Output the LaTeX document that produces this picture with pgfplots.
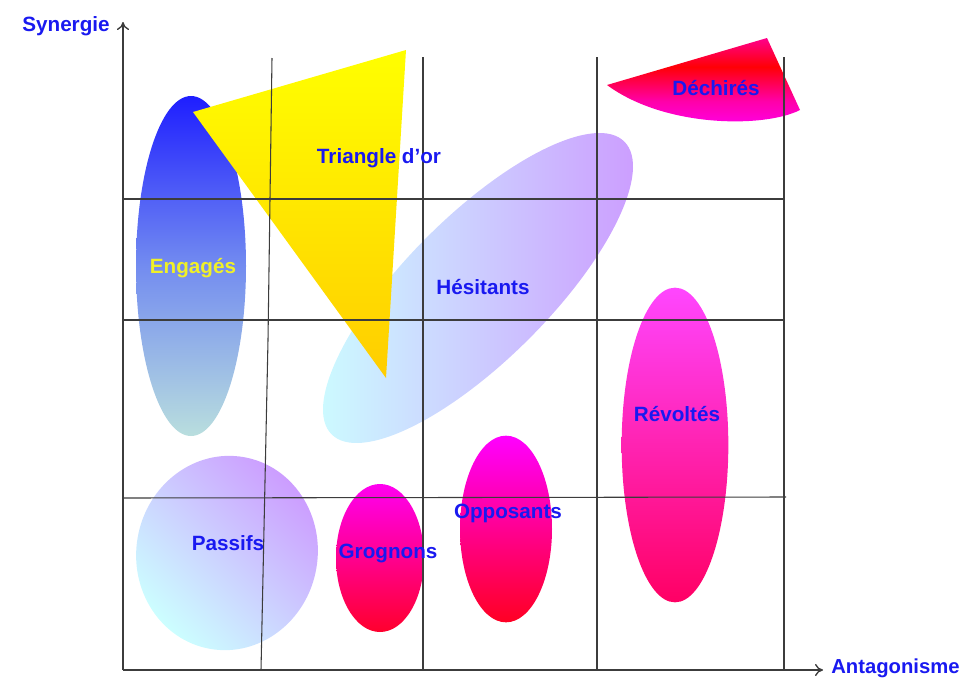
\documentclass[border=0pt]{standalone}
\usepackage{pgfplots}
\pgfplotsset{compat=1.18}
\usetikzlibrary{arrows.meta}
\usepackage{fontspec}
\setmainfont{Liberation Sans}

\definecolor{lav}{RGB}{204,153,255}
\definecolor{cya}{RGB}{204,255,255}
\definecolor{txtblue}{RGB}{25,25,240}
\definecolor{gridc}{RGB}{60,60,60}

\pgfdeclareverticalshading{dech}{100bp}{%
  rgb(0bp)=(1,0,0.92); rgb(25bp)=(1,0,0.92); rgb(40bp)=(1,0,0.66);
  rgb(59bp)=(1,0,0.02); rgb(75bp)=(1,0,0.55); rgb(100bp)=(1,0,0.55)}

\newcommand{\lab}[1]{\bfseries\fontsize{15.5}{18}\selectfont #1}

\begin{document}
\begin{tikzpicture}
\begin{axis}[
  scale only axis,
  width=720.75pt, height=509.25pt,
  xmin=0, xmax=961, ymin=0, ymax=679,
  y dir=reverse,
  hide axis,
  clip=false,
]
% --- groups (areas) ---
% Engagés
\shade[top color={rgb,255:red,30;green,30;blue,255},
       bottom color={rgb,255:red,185;green,222;blue,222},
       middle color={rgb,255:red,115;green,140;blue,240}]
  (axis cs:191,266) ellipse [x radius=41.25pt, y radius=127.5pt];
% Hésitants
\shade[rotate around={45:(axis cs:478,288)}, left color=cya, right color=lav]
  (axis cs:478,288) ellipse [x radius=155.25pt, y radius=54pt];
% Passifs
\shade[rotate around={-10:(axis cs:227,553)}, top color=lav, bottom color=cya, shading angle=-45]
  (axis cs:227,553) ellipse [x radius=68pt, y radius=73pt];
% Grognons
\shade[top color={rgb,255:red,255;green,0;blue,240}, bottom color={rgb,255:red,255;green,0;blue,45}]
  (axis cs:380,558) ellipse [x radius=33pt, y radius=55.5pt];
% Opposants
\shade[top color={rgb,255:red,255;green,0;blue,255}, bottom color={rgb,255:red,255;green,0;blue,35}]
  (axis cs:506,529) ellipse [x radius=34.5pt, y radius=70pt];
% Révoltés
\shade[top color={rgb,255:red,255;green,70;blue,255}, bottom color={rgb,255:red,255;green,0;blue,100}]
  (axis cs:675,445) ellipse [x radius=40pt, y radius=118pt];
% Triangle d'or
\addplot[draw=none, no markers, top color={rgb,255:red,255;green,255;blue,0},
         bottom color={rgb,255:red,255;green,205;blue,0}]
  coordinates {(193,112) (406,50) (386,378)} -- cycle;
% Déchirés
\addplot[draw=none, no markers, shading=dech]
  coordinates {(800,110) (767,38) (607,85)} .. controls (665,128) and (765,128) .. cycle;

% --- grid ---
\addplot[gridc, line width=0.8pt, no markers] coordinates {(272,58) (268,340) (261,670)};
\addplot[gridc, line width=0.8pt, no markers] coordinates {(423,57) (423,670)};
\addplot[gridc, line width=0.8pt, no markers] coordinates {(597,57) (597,670)};
\addplot[gridc, line width=0.8pt, no markers] coordinates {(784,57) (784,670)};
\addplot[gridc, line width=0.8pt, no markers] coordinates {(123,199) (784,199)};
\addplot[gridc, line width=0.8pt, no markers] coordinates {(123,320) (784,320)};
\addplot[gridc, line width=0.8pt, no markers] coordinates {(123,498) (786,497)};

% --- axes ---
\addplot[gridc, line width=1pt, no markers, -{To[length=6pt,width=9pt]}] coordinates {(123,670) (123,22)};
\addplot[gridc, line width=1pt, no markers, -{To[length=6pt,width=9pt]}] coordinates {(123,670) (823,670)};

% --- labels ---
\node[txtblue] at (axis cs:66,26) {\lab{Synergie}};
\node[txtblue, anchor=west, inner sep=0pt] at (axis cs:831,668) {\bfseries\fontsize{15.2}{18}\selectfont Antagonisme};
\node[text={rgb,255:red,240;green,240;blue,40}] at (axis cs:193,268) {\lab{Engagés}};
\node[txtblue] at (axis cs:379,158) {\lab{Triangle d'or}};
\node[txtblue] at (axis cs:483,287) {\lab{Hésitants}};
\node[txtblue] at (axis cs:716,88) {\lab{Déchirés}};
\node[txtblue] at (axis cs:677,414) {\lab{Révoltés}};
\node[txtblue] at (axis cs:508,513) {\lab{Opposants}};
\node[txtblue] at (axis cs:388,553) {\lab{Grognons}};
\node[txtblue] at (axis cs:228,543) {\lab{Passifs}};
\end{axis}
\pgfresetboundingbox
\path[use as bounding box] (0,0) rectangle (720.75pt,509.25pt);
\end{tikzpicture}
\end{document}
